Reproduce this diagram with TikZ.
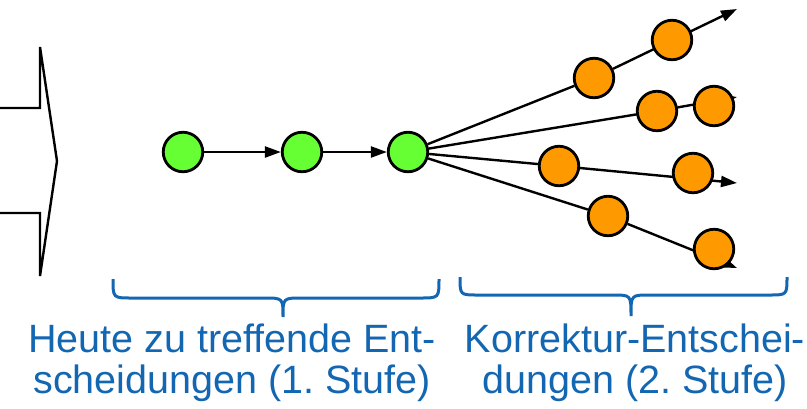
\documentclass[tikz,border=0pt]{standalone}
\usepackage{fontspec}
\setmainfont{Liberation Sans}
\usetikzlibrary{arrows.meta,backgrounds}

\definecolor{stufe}{RGB}{18,102,178}
\definecolor{heute}{RGB}{102,255,51}
\definecolor{spaeter}{RGB}{255,153,0}

\begin{document}
\frenchspacing
\begin{tikzpicture}[x=1pt, y=-1pt,
    dot/.style={draw, circle, line width=2.8pt, minimum size=39.5pt, inner sep=0pt},
    edge/.style={line width=2.4pt},
    >={Triangle[length=16pt, width=11pt]},
    klammer/.style={draw=stufe, line width=3pt},
    notiz/.style={text=stufe, align=center, anchor=north, inner sep=0pt,
                  font=\fontsize{39.5}{41}\selectfont}]

     \useasboundingbox (0,0) rectangle (807,408);

     % big arrow on the left
     \draw [line width=2.4pt] (-5,108) -- (40,108) -- (40,47) -- (57,161)
           -- (40,276) -- (40,213) -- (-5,213);

     % first stage
     \node (g1) at (183,152) [dot, fill=heute] {};
     \node (g2) at (302,152) [dot, fill=heute] {};
     \node (g3) at (408,152) [dot, fill=heute] {};

     % second stage
     \node (o1) at (594,78)  [dot, fill=spaeter] {};
     \node (o2) at (672,40)  [dot, fill=spaeter] {};
     \node (o3) at (657,111) [dot, fill=spaeter] {};
     \node (o4) at (714,106) [dot, fill=spaeter] {};
     \node (o5) at (559,166) [dot, fill=spaeter] {};
     \node (o6) at (693,173) [dot, fill=spaeter] {};
     \node (o7) at (608,216) [dot, fill=spaeter] {};
     \node (o8) at (714,249) [dot, fill=spaeter] {};

     \coordinate (t1) at (737,9);
     \coordinate (t2) at (737,97);
     \coordinate (t3) at (737,183);
     \coordinate (t4) at (737,268);

     \begin{scope}[on background layer]
     \draw [edge, ->] (g1) -- (g2);
     \draw [edge, ->] (g2) -- (g3);

     \draw [edge] (g3) -- (o1);
     \draw [edge] (g3) -- (o3);
     \draw [edge] (g3) -- (o5);
     \draw [edge] (g3) -- (o7);

     \draw [edge, ->] (o1) -- (t1);
     \draw [edge, ->] (o3) -- (t2);
     \draw [edge, ->] (o5) -- (t3);
     \draw [edge, ->] (o7) -- (t4);
     \end{scope}

     % braces
     \draw [klammer] (113,279) .. controls (113,298) .. (132,298) -- (264,298)
           .. controls (283,298) .. (283,317) .. controls (283,298) .. (302,298)
           -- (420,298) .. controls (439,298) .. (439,279);
     \draw [klammer] (460,277) .. controls (460,295) .. (478,295) -- (613,295)
           .. controls (631,295) .. (631,316) .. controls (631,295) .. (649,295)
           -- (769,295) .. controls (787,295) .. (787,277);

     \node (heute) at (232,323.5) [notiz] {Heute zu treffende Ent-\\scheidungen (1. Stufe)};
     \node (korrektur) at (635,323.5) [notiz] {Korrektur-Entschei-\\dungen (2. Stufe)};

\end{tikzpicture}
\end{document}
